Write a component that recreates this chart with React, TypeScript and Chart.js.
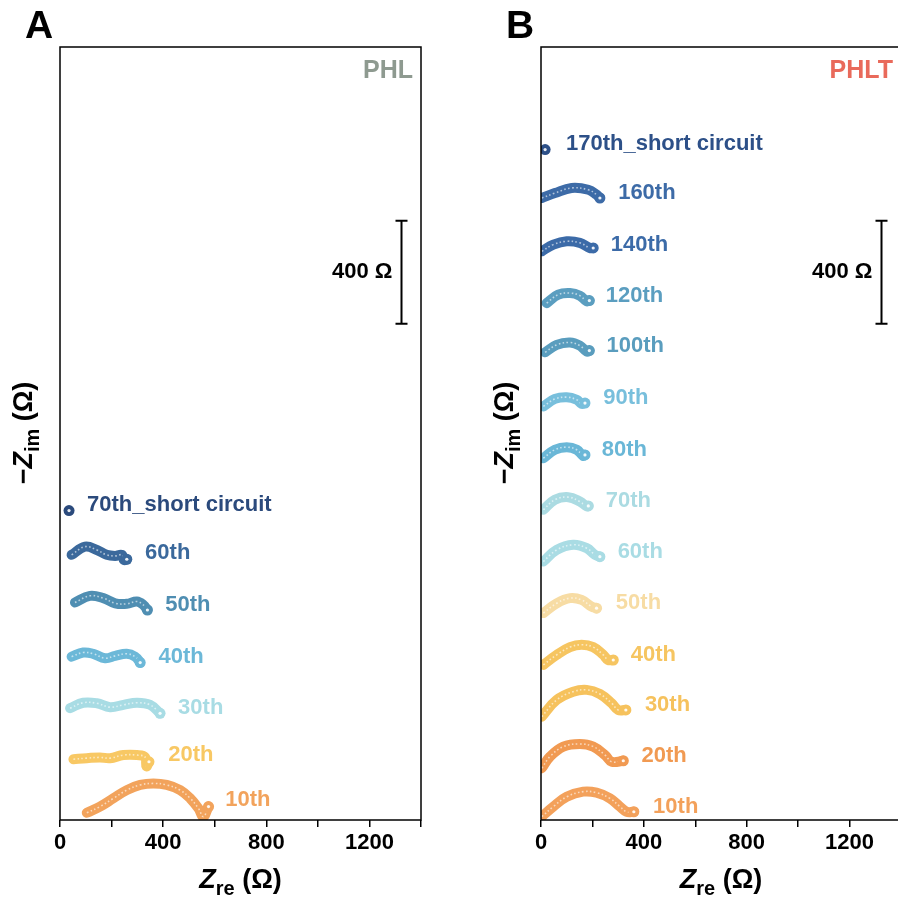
import React, { useEffect, useRef } from "react";
import { Chart, registerables } from "chart.js";
Chart.register(...registerables);

const FONT = '"Liberation Sans", Arial, sans-serif';

// ---------- Panel A : PHL ----------
const phlCycles = ["10th", "20th", "30th", "40th", "50th", "60th", "70th_short circuit"];
const phlOffsets = [0, 200, 400, 600, 800, 1000, 1200];
const phl10Re = [104, 155, 207, 259, 311, 362, 414, 466, 505, 537, 556, 576];
const phl10Im = [28, 52, 84, 116, 136, 142, 136, 116, 84, 45, 13, 52];
const phl20Re = [52, 104, 155, 194, 246, 298, 330, 335, 345];
const phl20Im = [36, 40, 43, 40, 52, 52, 44, 8, 26];
const phl30Re = [39, 90, 143, 194, 246, 298, 349, 388];
const phl30Im = [34, 55, 53, 38, 47, 55, 47, 14];
const phl40Re = [45, 90, 129, 175, 214, 259, 291, 311];
const phl40Im = [34, 50, 45, 28, 37, 45, 34, 11];
const phl50Re = [58, 116, 168, 214, 259, 298, 323, 339];
const phl50Im = [44, 70, 61, 41, 39, 48, 35, 15];
const phl60Re = [45, 97, 143, 181, 214, 240, 248, 259];
const phl60Im = [29, 61, 48, 29, 25, 29, 9, 12];
const phl70Re = [35];
const phl70Im = [1];
const phlLabelRe = [641, 420, 458, 382, 408, 330, 105];
const phlLabelIm = [78, 252, 435, 633, 835, 1037, 1223];
const phlColors = ["#F2A35C", "#F8C864", "#A8DCE4", "#6CB8D8", "#4F8EB2", "#3B699C", "#2B4A7C"];

// ---------- Panel B : PHLT ----------
const phltCycles = ["10th", "20th", "30th", "40th", "50th", "60th", "70th", "80th", "90th", "100th", "120th", "140th", "160th", "170th_short circuit"];
const phltOffsets = [0, 200, 400, 600, 800, 1000, 1200, 1400, 1600, 1800, 2000, 2200, 2400, 2600];
const phlt10Re = [3, 48, 100, 164, 216, 268, 307, 333, 361];
const phlt10Im = [13, 52, 90, 110, 106, 84, 52, 32, 32];
const phlt20Re = [3, 35, 87, 151, 203, 249, 275, 320];
const phlt20Im = [1, 46, 85, 95, 85, 52, 26, 30];
const phlt30Re = [3, 61, 125, 178, 229, 275, 300, 330];
const phlt30Im = [1, 66, 98, 105, 89, 53, 27, 27];
const phlt40Re = [9, 61, 113, 158, 203, 242, 261, 281];
const phlt40Im = [2, 41, 71, 80, 71, 41, 21, 21];
const phlt50Re = [9, 61, 113, 158, 197, 216];
const phlt50Im = [3, 41, 61, 54, 28, 22];
const phlt60Re = [9, 61, 125, 178, 210, 229];
const phlt60Im = [3, 48, 68, 55, 29, 22];
const phlt70Re = [9, 54, 106, 151, 178, 184];
const phlt70Im = [4, 43, 53, 36, 17, 19];
const phlt80Re = [9, 54, 100, 139, 164, 171];
const phlt80Im = [4, 37, 47, 37, 13, 17];
const phlt90Re = [9, 54, 100, 139, 158, 171];
const phlt90Im = [5, 34, 41, 31, 15, 18];
const phlt100Re = [16, 61, 113, 151, 178, 188];
const phlt100Im = [15, 44, 53, 41, 18, 22];
const phlt120Re = [22, 67, 113, 151, 178, 188];
const phlt120Im = [6, 39, 45, 35, 13, 16];
const phlt140Re = [3, 48, 100, 151, 190, 203];
const phlt140Im = [7, 33, 46, 40, 20, 20];
const phlt160Re = [3, 54, 119, 184, 216, 229];
const phlt160Im = [14, 33, 53, 46, 27, 14];
const phlt170Re = [16];
const phlt170Im = [2];
const phltLabelRe = [436, 391, 404, 349, 291, 298, 252, 236, 242, 255, 252, 271, 300, 97];
const phltLabelIm = [52, 248, 447, 641, 841, 1042, 1240, 1437, 1637, 1838, 2035, 2233, 2433, 2625];
const phltColors = ["#F3A15B", "#F19A52", "#F6C25D", "#F6C561", "#F7DCA4", "#A9DCE4", "#ABDBE2", "#6AB7D7", "#78BFDC", "#5A9DBE", "#5B9EC0", "#3C6BA8", "#3D6BA7", "#2D5088"];

const xTicks = [0, 400, 800, 1200];
const X_MAX = 1400;
const Y_MAX = 3000;
const SCALE_BAR = 400; // Ω
const SCALE_BAR_RE = 1322;
const SCALE_BAR_IM_BOTTOM = 1926;

type Panel = {
  letter: string;
  name: string;
  nameColor: string;
  cycles: string[];
  offsets: number[];
  re: number[][];
  im: number[][];
  labelRe: number[];
  labelIm: number[];
  colors: string[];
};

const panelA: Panel = {
  letter: "A",
  name: "PHL",
  nameColor: "#8E9A90",
  cycles: phlCycles,
  offsets: phlOffsets,
  re: [phl10Re, phl20Re, phl30Re, phl40Re, phl50Re, phl60Re, phl70Re],
  im: [phl10Im, phl20Im, phl30Im, phl40Im, phl50Im, phl60Im, phl70Im],
  labelRe: phlLabelRe,
  labelIm: phlLabelIm,
  colors: phlColors,
};

const panelB: Panel = {
  letter: "B",
  name: "PHLT",
  nameColor: "#E96A5B",
  cycles: phltCycles,
  offsets: phltOffsets,
  re: [phlt10Re, phlt20Re, phlt30Re, phlt40Re, phlt50Re, phlt60Re, phlt70Re, phlt80Re, phlt90Re, phlt100Re, phlt120Re, phlt140Re, phlt160Re, phlt170Re],
  im: [phlt10Im, phlt20Im, phlt30Im, phlt40Im, phlt50Im, phlt60Im, phlt70Im, phlt80Im, phlt90Im, phlt100Im, phlt120Im, phlt140Im, phlt160Im, phlt170Im],
  labelRe: phltLabelRe,
  labelIm: phltLabelIm,
  colors: phltColors,
};

function drawRich(ctx: CanvasRenderingContext2D, parts: { t: string; font: string; dy?: number }[], cx: number, by: number) {
  let total = 0;
  const widths = parts.map((p) => {
    ctx.font = p.font;
    const w = ctx.measureText(p.t).width;
    total += w;
    return w;
  });
  let x = cx - total / 2;
  ctx.textAlign = "left";
  ctx.textBaseline = "alphabetic";
  parts.forEach((p, i) => {
    ctx.font = p.font;
    ctx.fillText(p.t, x, by + (p.dy || 0));
    x += widths[i];
  });
}

function makeConfig(panel: Panel, padRight: number, padLeft: number): any {
  const datasets: any[] = [];
  panel.re.forEach((re, i) => {
    const data = re.map((x, j) => ({ x, y: panel.im[i][j] + panel.offsets[i] }));
    const color = panel.colors[i];
    if (data.length > 1) {
      datasets.push({
        data,
        showLine: true,
        borderColor: color,
        borderWidth: 10,
        tension: 0.4,
        borderCapStyle: "round",
        borderJoinStyle: "round",
        pointRadius: 0,
        order: 4,
      });
      datasets.push({
        data,
        showLine: true,
        borderColor: "rgba(255,255,255,0.6)",
        borderWidth: 1.6,
        borderDash: [1.6, 2.4],
        tension: 0.4,
        pointRadius: 0,
        order: 3,
      });
    }
    const end = [data[data.length - 1]];
    datasets.push({
      data: end,
      showLine: false,
      pointRadius: 5.5,
      pointBackgroundColor: color,
      pointBorderWidth: 0,
      order: 2,
    });
    datasets.push({
      data: end,
      showLine: false,
      pointRadius: 1.6,
      pointBackgroundColor: "rgba(255,255,255,0.9)",
      pointBorderWidth: 0,
      order: 1,
    });
  });

  const overlay = {
    id: "overlay",
    afterDraw(chart: any) {
      const ctx: CanvasRenderingContext2D = chart.ctx;
      const { left, right, top, bottom } = chart.chartArea;
      const xs = chart.scales.x;
      const ys = chart.scales.y;
      ctx.save();
      // frame
      ctx.strokeStyle = "#000";
      ctx.lineWidth = 1.5;
      ctx.strokeRect(left, top, right - left, bottom - top);
      // curve labels
      ctx.font = `bold 22px ${FONT}`;
      ctx.textAlign = "left";
      ctx.textBaseline = "middle";
      panel.cycles.forEach((c, i) => {
        ctx.fillStyle = panel.colors[i];
        ctx.fillText(c, xs.getPixelForValue(panel.labelRe[i]), ys.getPixelForValue(panel.labelIm[i]));
      });
      // panel name
      ctx.font = `bold 25px ${FONT}`;
      ctx.fillStyle = panel.nameColor;
      ctx.textAlign = "right";
      ctx.textBaseline = "middle";
      ctx.fillText(panel.name, right - 8, top + 24);
      // scale bar
      const bx = Math.round(xs.getPixelForValue(SCALE_BAR_RE)) + 0.5;
      const by1 = ys.getPixelForValue(SCALE_BAR_IM_BOTTOM);
      const by0 = ys.getPixelForValue(SCALE_BAR_IM_BOTTOM + SCALE_BAR);
      ctx.strokeStyle = "#000";
      ctx.lineWidth = 2;
      ctx.beginPath();
      ctx.moveTo(bx, by0);
      ctx.lineTo(bx, by1);
      ctx.moveTo(bx - 6, by0);
      ctx.lineTo(bx + 6, by0);
      ctx.moveTo(bx - 6, by1);
      ctx.lineTo(bx + 6, by1);
      ctx.stroke();
      ctx.fillStyle = "#000";
      ctx.font = `bold 22px ${FONT}`;
      ctx.textAlign = "right";
      ctx.textBaseline = "middle";
      ctx.fillText(`${SCALE_BAR} Ω`, bx - 9, (by0 + by1) / 2);
      // panel letter
      ctx.font = `bold 39px ${FONT}`;
      ctx.textAlign = "left";
      ctx.textBaseline = "alphabetic";
      ctx.fillText(panel.letter, left - 35, 38);
      // x title
      ctx.fillStyle = "#000";
      drawRich(
        ctx,
        [
          { t: "Z", font: `italic bold 27px ${FONT}` },
          { t: "re", font: `bold 20px ${FONT}`, dy: 7 },
          { t: " (Ω)", font: `bold 27px ${FONT}` },
        ],
        (left + right) / 2,
        888
      );
      // y title
      ctx.translate(left - 38, 433);
      ctx.rotate(-Math.PI / 2);
      drawRich(
        ctx,
        [
          { t: "−", font: `bold 27px ${FONT}` },
          { t: "Z", font: `italic bold 27px ${FONT}` },
          { t: "im", font: `bold 20px ${FONT}`, dy: 7 },
          { t: " (Ω)", font: `bold 27px ${FONT}` },
        ],
        0,
        10
      );
      ctx.restore();
    },
  };

  return {
    type: "scatter",
    data: { datasets },
    options: {
      animation: false,
      responsive: false,
      maintainAspectRatio: false,
      events: [],
      layout: { padding: { left: padLeft, top: 47, right: padRight, bottom: 0 } },
      plugins: { legend: { display: false }, tooltip: { enabled: false } },
      scales: {
        x: {
          type: "linear",
          min: 0,
          max: X_MAX,
          afterFit: (s: any) => {
            s.height = 82;
          },
          afterBuildTicks: (s: any) => {
            const t: any[] = [];
            for (let v = 0; v <= X_MAX; v += 200) t.push({ value: v });
            s.ticks = t;
          },
          ticks: {
            autoSkip: false,
            maxRotation: 0,
            padding: 3,
            color: "#000",
            font: { family: FONT, weight: "bold", size: 22 },
            callback: (v: number) => (xTicks.includes(v) ? String(v) : ""),
          },
          grid: { drawOnChartArea: false, tickLength: 7, color: "#000", lineWidth: 1.5 },
          border: { display: false },
        },
        y: { display: false, min: 0, max: Y_MAX },
      },
    },
    plugins: [overlay],
  };
}

function PanelChart({ panel, width, padLeft, padRight, left }: { panel: Panel; width: number; padLeft: number; padRight: number; left: number }) {
  const ref = useRef<HTMLCanvasElement>(null);
  useEffect(() => {
    if (!ref.current) return;
    const chart = new Chart(ref.current, makeConfig(panel, padRight, padLeft));
    return () => chart.destroy();
  }, []);
  return (
    <canvas
      ref={ref}
      width={width}
      height={902}
      style={{ position: "absolute", left, top: 0, width, height: 902 }}
    />
  );
}

export default function App() {
  return (
    <div
      style={{
        position: "absolute",
        left: 0,
        top: 0,
        width: 898,
        height: 902,
        overflow: "hidden",
        background: "#fff",
      }}
    >
      <PanelChart panel={panelA} width={449} padLeft={60} padRight={28} left={0} />
      <PanelChart panel={panelB} width={461} padLeft={92} padRight={9} left={449} />
    </div>
  );
}
